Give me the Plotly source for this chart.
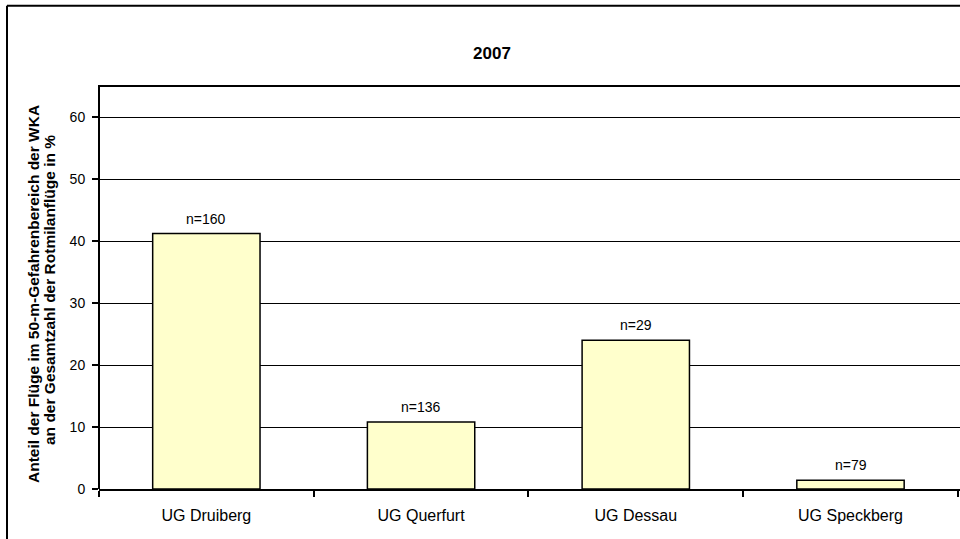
import plotly.graph_objects as go

# Study areas and share of flights inside the 50 m danger zone (%)
areas = ["UG Druiberg", "UG Querfurt", "UG Dessau", "UG Speckberg"]
share_pct = [41.2, 10.8, 24.0, 1.4]
n_flights = [160, 136, 29, 79]
y_ticks = [0, 10, 20, 30, 40, 50, 60]

W, H = 960, 539
ML, MR, MT, MB = 99, 0, 86, 50
plot_w = W - ML - MR
plot_h = H - MT - MB

def px_x(px):
    return (px - ML) / plot_w

def px_y(py):
    return (H - MB - py) / plot_h

font_family = "Liberation Sans, Arial, sans-serif"

fig = go.Figure(
    go.Bar(
        x=areas,
        y=share_pct,
        width=0.5,
        marker=dict(color="#FFFFCC", line=dict(color="black", width=1.5)),
        hoverinfo="x+y",
    )
)

# sample-size labels above each bar
annotations = [
    dict(
        x=a, y=v, xref="x", yref="y",
        text=f"n={n}", showarrow=False,
        xanchor="center", yanchor="bottom", yshift=5,
        font=dict(size=14, color="black", family=font_family),
    )
    for a, v, n in zip(areas, share_pct, n_flights)
]

# two-line y-axis caption
annotations += [
    dict(
        x=px_x(33), y=px_y(294), xref="paper", yref="paper",
        text="<b>Anteil der Flüge im 50-m-Gefahrenbereich der WKA</b>",
        textangle=-90, showarrow=False, xanchor="center", yanchor="middle",
        font=dict(size=15.5, color="black", family=font_family),
    ),
    dict(
        x=px_x(49), y=px_y(290), xref="paper", yref="paper",
        text="<b>an der Gesamtzahl der Rotmilanflüge in %</b>",
        textangle=-90, showarrow=False, xanchor="center", yanchor="middle",
        font=dict(size=15.5, color="black", family=font_family),
    ),
]

# outer chart frame (left and top edges), plot-area top edge and the y-axis line
shapes = [
    dict(type="line", xref="paper", yref="paper",
         x0=px_x(7), x1=px_x(7), y0=px_y(5.7), y1=px_y(545),
         line=dict(color="black", width=2)),
    dict(type="line", xref="paper", yref="paper",
         x0=px_x(7), x1=1, y0=px_y(5.7), y1=px_y(5.7),
         line=dict(color="black", width=2)),
    dict(type="line", xref="paper", yref="paper",
         x0=px_x(98), x1=1, y0=1, y1=1,
         line=dict(color="black", width=2)),
    dict(type="line", xref="paper", yref="paper",
         x0=0, x1=0, y0=0, y1=1,
         line=dict(color="black", width=2)),
]

fig.update_layout(
    width=W, height=H,
    margin=dict(l=ML, r=MR, t=MT, b=MB),
    paper_bgcolor="white", plot_bgcolor="white",
    showlegend=False,
    title=dict(
        text="<b>2007</b>", xref="container", yref="container",
        x=492 / W, y=1 - 53 / H, xanchor="center", yanchor="middle",
        font=dict(size=17, color="black", family=font_family),
    ),
    font=dict(family=font_family, color="black"),
    annotations=annotations,
    shapes=shapes,
)

# the last category runs a pixel or so past the right edge of the page
fig.update_xaxes(
    type="category",
    range=[-0.5, 3.51],
    showline=True, linecolor="black", linewidth=2,
    ticks="outside", tickson="boundaries", ticklen=6, tickwidth=1.5, tickcolor="black",
    ticklabelstandoff=11,
    showgrid=False,
    tickfont=dict(size=16, color="black", family=font_family),
)

fig.update_yaxes(
    range=[0, 65],
    tickvals=y_ticks,
    showline=False,
    ticks="outside", ticklen=6, tickwidth=1.5, tickcolor="black",
    ticklabelstandoff=4,
    showgrid=True, gridcolor="black", gridwidth=1,
    zeroline=False,
    tickfont=dict(size=14, color="black", family=font_family),
)

fig.write_html("out.html")
